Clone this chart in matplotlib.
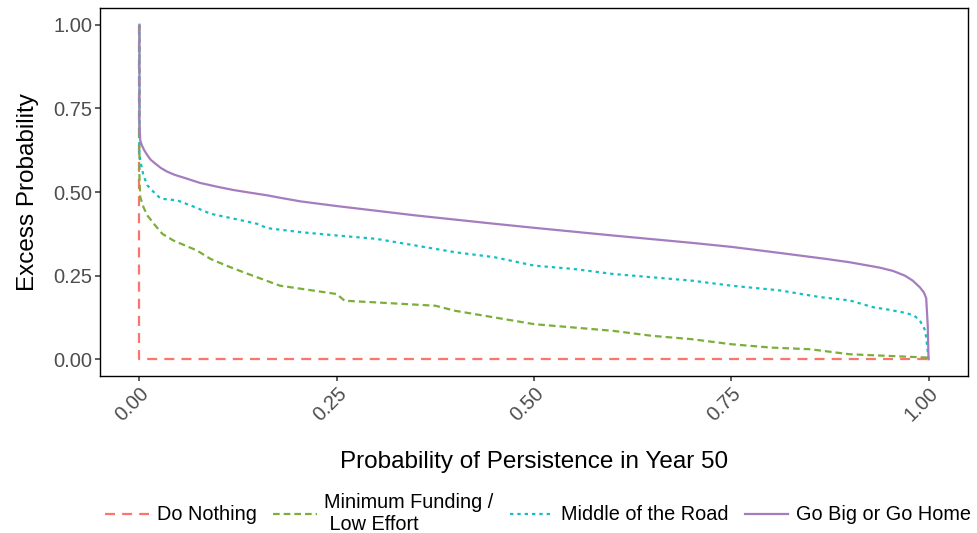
import matplotlib
matplotlib.use("Agg")
import matplotlib.pyplot as plt

plt.rcParams['font.family'] = ['Liberation Sans', 'DejaVu Sans']

# series (x = persistence probability, y = excess probability)
nothing_x = [0.0, 0.0, 1.0]
nothing_y = [1.0, 0.0, 0.0]

minimum_x = [0.0, 0.0, 0.001, 0.005, 0.01, 0.02, 0.029, 0.043, 0.058, 0.073, 0.09, 0.11,
             0.132, 0.155, 0.178, 0.204, 0.25, 0.26, 0.3, 0.375, 0.4, 0.45, 0.5, 0.55,
             0.6, 0.65, 0.7, 0.75, 0.8, 0.85, 0.9, 0.95, 1.0]
minimum_y = [1.0, 0.54, 0.485, 0.455, 0.43, 0.40, 0.375, 0.355, 0.34, 0.325, 0.30, 0.28,
             0.26, 0.24, 0.22, 0.211, 0.195, 0.175, 0.17, 0.16, 0.145, 0.125, 0.105, 0.095,
             0.085, 0.07, 0.06, 0.045, 0.035, 0.03, 0.015, 0.01, 0.005]

middle_x = [0.0, 0.0, 0.001, 0.005, 0.01, 0.018, 0.027, 0.048, 0.07, 0.09, 0.12, 0.149,
            0.162, 0.204, 0.25, 0.3, 0.35, 0.4, 0.45, 0.5, 0.55, 0.6, 0.65, 0.7, 0.75,
            0.811, 0.862, 0.9, 0.913, 0.929, 0.95, 0.972, 0.982, 0.989, 0.995, 0.997, 1.0]
middle_y = [1.0, 0.62, 0.594, 0.55, 0.52, 0.50, 0.48, 0.475, 0.455, 0.435, 0.42, 0.405,
            0.392, 0.38, 0.37, 0.36, 0.34, 0.32, 0.305, 0.28, 0.27, 0.255, 0.245, 0.235,
            0.22, 0.206, 0.186, 0.176, 0.167, 0.156, 0.148, 0.138, 0.13, 0.116, 0.09,
            0.067, 0.0]

bigger_x = [0.0, 0.0, 0.001, 0.003, 0.006, 0.01, 0.014, 0.02, 0.027, 0.035, 0.045, 0.056,
            0.077, 0.1, 0.119, 0.14, 0.162, 0.18, 0.204, 0.25, 0.35, 0.45, 0.5, 0.6, 0.7,
            0.75, 0.811, 0.87, 0.9, 0.938, 0.955, 0.97, 0.98, 0.989, 0.994, 0.997, 0.999,
            1.0]
bigger_y = [1.0, 0.70, 0.654, 0.64, 0.625, 0.61, 0.597, 0.585, 0.572, 0.561, 0.551, 0.543,
            0.527, 0.515, 0.506, 0.498, 0.49, 0.482, 0.472, 0.458, 0.43, 0.405, 0.393,
            0.37, 0.348, 0.336, 0.318, 0.30, 0.29, 0.274, 0.264, 0.25, 0.235, 0.215, 0.2,
            0.183, 0.1, 0.0]

labels = ['Do Nothing', 'Minimum Funding /\n Low Effort', 'Middle of the Road', 'Go Big or Go Home']
x_ticks = [0.0, 0.25, 0.5, 0.75, 1.0]
y_ticks = [0.0, 0.25, 0.5, 0.75, 1.0]

fig = plt.figure(figsize=(9.77, 5.33), dpi=100)
ax = fig.add_axes([100/977, 1 - 376/533, 868/977, 368/533])

lw = 1.6
ax.plot(nothing_x, nothing_y, color='#F8766D', lw=lw, dashes=(4.5, 3.2), label=labels[0])
ax.plot(minimum_x, minimum_y, color='#7CAE3A', lw=lw, dashes=(3.0, 1.8), label=labels[1])
ax.plot(middle_x, middle_y, color='#14BFC4', lw=lw, dashes=(1.5, 1.8), label=labels[2])
ax.plot(bigger_x, bigger_y, color='#A57DBE', lw=lw, label=labels[3])

ax.set_xlim(-0.05, 1.05)
ax.set_ylim(-0.05, 1.05)
ax.set_xticks(x_ticks)
ax.set_yticks(y_ticks)
ax.set_xticklabels(['%.2f' % v for v in x_ticks])
ax.set_yticklabels(['%.2f' % v for v in y_ticks])
ax.tick_params(labelsize=14.5, labelcolor='#4D4D4D', color='#333333', length=3.5, width=1.1, pad=2)
plt.setp(ax.get_xticklabels(), rotation=45, ha='right', va='top', rotation_mode='anchor')
for s in ax.spines.values():
    s.set_linewidth(1.0)
    s.set_color('black')

ax.set_xlabel('Probability of Persistence in Year 50', fontsize=17.5, labelpad=19)
ax.set_ylabel('Excess Probability', fontsize=17.5, labelpad=10)

fig.legend(loc='center', bbox_to_anchor=(0.551, 1 - 513/533), ncol=4, frameon=False,
           fontsize=14.3, handlelength=2.2, handletextpad=0.4, columnspacing=0.8)

fig.savefig('out.png', dpi=100)
